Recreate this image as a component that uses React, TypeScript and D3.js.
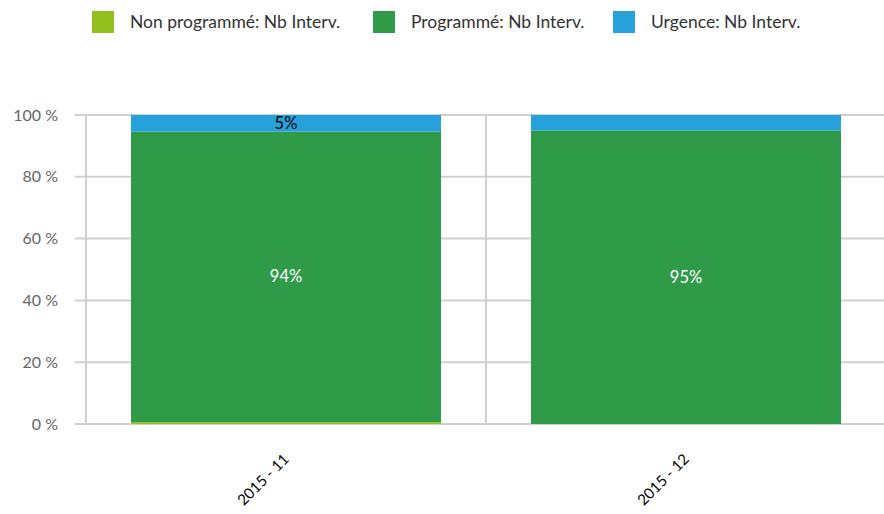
import React from "react";
import * as d3 from "d3";

const categories = ["2015 - 11", "2015 - 12"];
const seriesNames = ["Non programmé: Nb Interv.", "Programmé: Nb Interv.", "Urgence: Nb Interv."];
const nonProgramme = [1, 0];
const programme = [157, 95];
const urgence = [9, 5];
const yTicks = [0, 20, 40, 60, 80, 100];
const colors = ["#93c01f", "#2f9b48", "#27a1dc"];
// which labels are displayed [series][category]
const showLabel = [
  [false, false],
  [true, true],
  [true, false],
];

export default function App() {
  const W = 884, H = 514;
  const left = 86, right = 886, top = 115, bottom = 424;
  const x = d3.scaleBand<string>().domain(categories).range([left, right]).paddingInner(0.225).paddingOuter(0.1125);
  const band = d3.scaleBand<string>().domain(categories).range([left, right]);
  const y = d3.scaleLinear().domain([0, 100]).range([bottom, top]);

  const rows = categories.map((c, i) => {
    const total = nonProgramme[i] + programme[i] + urgence[i];
    return {
      cat: c,
      s0: (nonProgramme[i] / total) * 100,
      s1: (programme[i] / total) * 100,
      s2: (urgence[i] / total) * 100,
    };
  });
  const stack = d3.stack<any>().keys(["s0", "s1", "s2"]);
  const series = stack(rows);

  const font = "Lato, 'Open Sans', sans-serif";
  const grid = "#d0d0d0";

  return (
    <svg width={W} height={H} style={{ position: "absolute", left: 0, top: 0 }} fontFamily={font}>
      {/* legend */}
      {seriesNames.map((n, i) => {
        const lx = [92, 373, 613][i];
        return (
          <g key={n}>
            <rect x={lx} y={11} width={22} height={22} fill={colors[i]} />
            <text x={lx + 38} y={28} fontSize={17.5} fill="#333">{n}</text>
          </g>
        );
      })}
      {/* gridlines */}
      {yTicks.map((t) => (
        <g key={t}>
          <line x1={75} x2={W} y1={y(t)} y2={y(t)} stroke={grid} strokeWidth={2} />
          <text x={58} y={y(t) + 5.5} textAnchor="end" fontSize={16} fill="#666">{t} %</text>
        </g>
      ))}
      {categories.map((c) => (
        <line key={c} x1={band(c)!} x2={band(c)!} y1={top} y2={bottom} stroke={grid} strokeWidth={2} />
      ))}
      {/* bars */}
      {series.map((s, si) => (
        <g key={si}>
          {s.map((d: any, ci: number) => (
            <rect
              key={ci}
              x={x(categories[ci])!}
              width={x.bandwidth()}
              y={y(d[1])}
              height={Math.max(0, y(d[0]) - y(d[1]))}
              fill={colors[si]}
            />
          ))}
        </g>
      ))}
      {/* labels */}
      {series.map((s, si) =>
        s.map((d: any, ci: number) => {
          if (!showLabel[si][ci]) return null;
          const v = d[1] - d[0];
          const cx = x(categories[ci])! + x.bandwidth() / 2;
          const cy = si === 2 ? y(d[1]) + 14 : (y(d[0]) + y(d[1])) / 2 + 5.5;
          return (
            <text key={`${si}-${ci}`} x={cx} y={cy} textAnchor="middle" fontSize={16.5} fill={si === 2 ? "#000" : "#fff"}>
              {Math.round(v)}%
            </text>
          );
        })
      )}
      {/* x labels */}
      {categories.map((c) => {
        const cx = x(c)! + x.bandwidth() / 2 + 4;
        return (
          <text key={c} transform={`translate(${cx},${460}) rotate(-45)`} textAnchor="end" fontSize={15} fill="#000">
            {c}
          </text>
        );
      })}
    </svg>
  );
}
